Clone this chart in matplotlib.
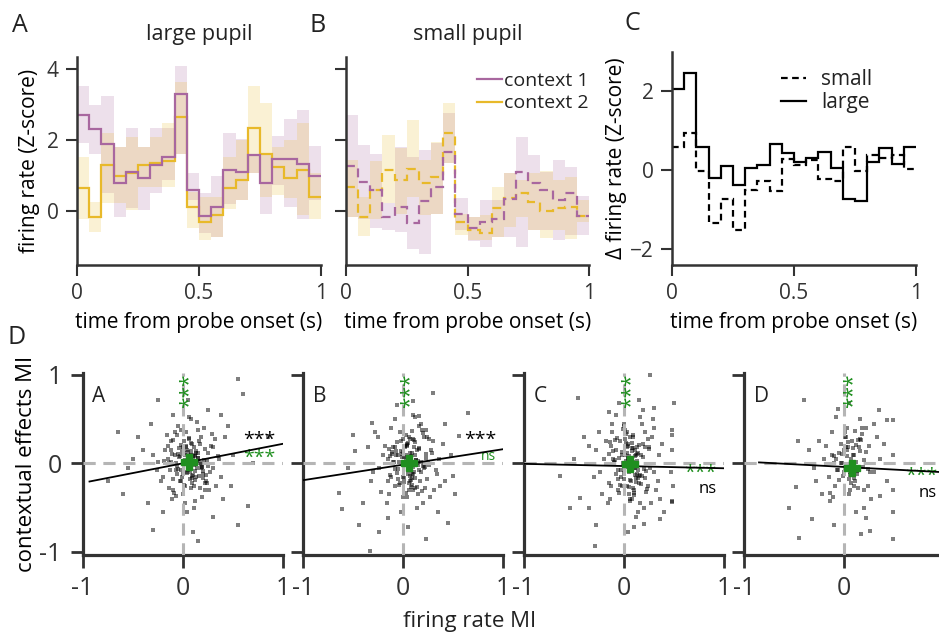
import numpy as np
import matplotlib
matplotlib.use("Agg")
import matplotlib.pyplot as plt

plt.rcParams["font.family"] = ["Open Sans", "DejaVu Sans"]
plt.rcParams["font.size"] = 15
plt.rcParams["axes.linewidth"] = 1.8
plt.rcParams["axes.edgecolor"] = "#333333"
plt.rcParams["xtick.color"] = "#333333"
plt.rcParams["ytick.color"] = "#333333"
plt.rcParams["text.color"] = "#222222"

# time bins (s)
edges = [0.0, 0.05, 0.1, 0.15, 0.2, 0.25, 0.3, 0.35, 0.4, 0.45, 0.5,
         0.55, 0.6, 0.65, 0.7, 0.75, 0.8, 0.85, 0.9, 0.95, 1.0]

# large pupil PSTHs
large_ctx1 = [2.72, 2.30, 1.88, 0.80, 1.11, 0.92, 1.31, 1.53, 3.29, 0.59,
              -0.14, 0.12, 1.15, 1.11, 1.58, 0.80, 1.46, 1.47, 1.32, 1.00]
large_ctx1_hi = [3.52, 2.98, 3.24, 1.81, 2.35, 1.81, 2.35, 2.33, 4.08, 1.06,
                 0.50, 0.99, 2.21, 2.02, 1.62, 1.64, 2.11, 2.58, 2.85, 1.83]
large_ctx1_lo = [1.91, 1.61, 0.50, -0.16, 0.08, 0.03, 0.50, 0.87, 1.62, 0.31,
                 -0.63, -0.72, 0.20, 0.31, 1.08, -0.07, 0.73, 0.12, -0.21, 0.31]
large_ctx2 = [0.64, -0.18, 1.30, 0.99, 1.08, 1.31, 1.36, 1.41, 2.64, 0.12,
              -0.31, -0.11, 0.66, 0.87, 2.33, 1.62, 1.25, 0.92, 1.15, 0.40]
large_ctx2_hi = [1.53, 0.26, 2.19, 1.80, 2.10, 1.81, 2.10, 2.47, 3.64, 0.54,
                 0.40, 0.40, 1.53, 2.00, 3.52, 3.05, 1.81, 2.00, 2.49, 1.06]
large_ctx2_lo = [-0.21, -0.58, 0.22, 0.22, 0.03, 0.69, 0.69, 0.69, 1.62, -0.49,
                 -0.82, -0.72, 0.05, 0.31, 1.06, 0.40, 0.45, 0.36, -0.11, -0.21]

# small pupil PSTHs
small_ctx1 = [1.28, 0.83, 0.59, -0.18, 0.12, -0.35, 0.28, 0.69, 1.67, -0.07,
              -0.49, -0.30, -0.23, 0.33, 1.11, 0.80, 0.59, 0.31, 0.50, -0.14]
small_ctx1_hi = [2.70, 1.86, 1.62, 0.23, 1.81, 1.53, 1.72, 1.91, 2.75, 0.38,
                 -0.16, 0.31, 0.31, 1.06, 2.08, 1.58, 1.11, 1.44, 1.25, 0.42]
small_ctx1_lo = [-0.16, -0.21, -0.49, -0.54, -0.58, -1.08, -1.21, -0.07, 1.34, -0.52,
                 -0.84, -1.00, -0.72, -0.72, -1.02, -0.54, -0.54, -0.82, -0.68, -0.68]
small_ctx2 = [0.69, -0.16, 0.59, 1.17, 0.87, 1.18, 0.80, 0.97, 2.21, -0.32,
              -0.54, -0.63, 0.08, 0.36, 0.52, 0.26, 0.01, 0.08, 0.10, -0.14]
small_ctx2_hi = [1.44, 0.40, 1.42, 2.14, 1.77, 2.56, 1.44, 1.95, 3.03, -0.07,
                 -0.16, -0.11, 0.69, 1.06, 0.87, 1.06, 1.14, 0.87, 0.97, 0.31]
small_ctx2_lo = [-0.16, -0.70, -0.21, 0.23, -0.07, 0.40, -0.11, -0.07, 1.34, -0.68,
                 -0.82, -0.82, -0.72, -0.44, -0.16, -0.54, -0.77, -0.54, -0.80, -0.30]

# context difference
delta_large = [2.04, 2.46, 0.59, -0.21, 0.11, -0.38, 0.04, 0.13, 0.65, 0.42,
               0.19, 0.29, 0.46, 0.04, -0.74, -0.80, 0.21, 0.55, 0.14, 0.59]
delta_small = [0.59, 0.94, -0.02, -1.35, -0.73, -1.52, -0.51, -0.29, -0.53, 0.27,
               0.13, 0.25, -0.24, -0.29, 0.59, -0.02, 0.38, 0.29, 0.38, 0.02]

# population scatter: firing rate MI (x) vs contextual effects MI (y)
fr_mi_A = [0.02, 0.05, 0.08, 0.11, -0.03, 0.0, 0.04, 0.07, 0.12, 0.15, -0.06, 0.03, 0.09, 0.06, 0.01,
           -0.02, 0.13, 0.10, 0.04, 0.08, -0.05, 0.02, 0.07, 0.11, 0.05, 0.0, 0.14, -0.01, 0.06, 0.09,
           0.03, 0.12, -0.04, 0.08, 0.05, 0.16, 0.01, 0.07, -0.07, 0.10,
           -0.15, 0.25, -0.2, 0.3, 0.22, -0.12, 0.28, -0.25, 0.18, 0.35, -0.1, 0.2, -0.18, 0.32, 0.26,
           -0.22, 0.15, -0.08, 0.24, 0.38, -0.3, 0.19, -0.14, 0.33, 0.21, -0.16, 0.27, 0.12, -0.05, 0.3,
           -0.26, 0.17, 0.23, -0.11, 0.36, 0.14, -0.19, 0.29, 0.02, 0.08, 0.0, 0.11, -0.02, 0.06, 0.04,
           -0.6, -0.3, 0.15, 0.5, 0.65, -0.25, 0.55, 0.6, -0.1, 0.42, -0.45, 0.48, -0.55, 0.7, -0.35,
           0.45, -0.4, 0.3, -0.75, 0.85, -0.5, 0.4, 0.05, -0.2, 0.25, 0.55, -0.65, 0.38, 0.1, -0.32]
ctx_mi_A = [0.04, -0.06, 0.1, -0.02, 0.08, -0.12, 0.15, 0.02, -0.09, 0.06, -0.03, 0.2, -0.17, -0.04, 0.12,
            -0.2, 0.14, -0.13, 0.0, 0.23, 0.11, -0.25, 0.07, 0.18, -0.08, 0.03, -0.05, -0.15, 0.27, -0.22,
            -0.1, 0.09, 0.17, -0.28, 0.13, -0.14, 0.25, -0.18, -0.07, 0.01,
            0.05, 0.12, -0.15, -0.05, -0.22, 0.25, 0.2, 0.02, 0.3, 0.08, -0.3, -0.12, 0.15, 0.28, -0.3,
            -0.2, 0.38, 0.35, 0.03, -0.15, 0.1, -0.38, -0.28, -0.25, 0.4, 0.32, -0.1, -0.42, 0.42, 0.18,
            -0.08, 0.22, -0.2, -0.4, 0.05, 0.47, 0.03, 0.33, -0.45, 0.5, -0.35, -0.5, 0.38, 0.52, -0.55,
            -0.35, -0.75, -0.88, 0.1, -0.48, 0.72, 0.95, 0.78, 0.55, 0.3, 0.3, -0.25, -0.05, 0.0, -0.45,
            0.42, 0.15, -0.6, -0.2, 0.3, 0.05, -0.4, 0.72, -0.55, 0.6, -0.7, 0.35, 0.55, -0.78, 0.45]
fr_core_A = [-0.12, 0.18, 0.02, -0.06, 0.22, 0.1, -0.1, 0.15, 0.05, -0.02, 0.2, -0.14, 0.08, 0.24, -0.04,
             0.13, 0.0, 0.19, -0.08, 0.11, 0.16, -0.11, 0.07, 0.21, -0.03, 0.12, -0.13, 0.03, 0.17, -0.07,
             0.09, 0.23, -0.01, 0.14, -0.09, 0.06, 0.2, -0.05, 0.1, 0.01, 0.18, -0.12, 0.04, 0.15, -0.06,
             0.22, 0.08, -0.1, 0.12, 0.0, 0.17, -0.02, 0.06, 0.25, -0.15, 0.09, 0.13, -0.07, 0.03, 0.19]
ctx_core_A = [0.02, -0.05, 0.09, -0.12, 0.16, 0.05, -0.18, 0.12, -0.02, 0.21, -0.09, 0.0, 0.14, -0.22, 0.07,
              -0.15, 0.19, -0.04, 0.1, -0.26, 0.25, 0.11, -0.1, 0.04, -0.2, 0.08, -0.07, 0.18, -0.28, 0.0,
              0.22, -0.13, 0.13, 0.03, -0.33, 0.29, -0.16, -0.06, 0.08, -0.24, -0.01, 0.15, -0.11, 0.06, 0.32,
              -0.3, 0.1, 0.26, -0.19, 0.17, 0.0, -0.08, 0.05, -0.03, 0.2, -0.14, 0.12, -0.37, 0.35, -0.04]

fr_mi_B = [0.03, 0.06, 0.09, 0.0, -0.04, 0.12, 0.07, 0.02, 0.1, -0.02, 0.05, 0.14, -0.07, 0.08, 0.04,
           0.11, 0.01, -0.05, 0.06, 0.13, 0.09, -0.01, 0.03, 0.16, 0.07, -0.08, 0.05, 0.1, 0.02, 0.12,
           -0.03, 0.08, 0.04, 0.15, 0.0, 0.06, -0.06, 0.11, 0.09, 0.03,
           -0.2, 0.28, -0.15, 0.33, 0.22, -0.25, 0.3, -0.1, 0.19, 0.36, -0.3, 0.24, -0.18, 0.4, 0.27,
           -0.22, 0.16, -0.12, 0.25, 0.42, -0.35, 0.2, -0.14, 0.31, 0.18, -0.28, 0.34, 0.14, -0.08, 0.26,
           -0.24, 0.21, 0.37, -0.16, 0.29, 0.12, -0.32, 0.23, -0.02, 0.1,
           -0.64, -0.61, -0.44, -0.24, -0.33, 0.23, 0.45, 0.65, 0.3, -0.06, -0.48, 0.5, 0.56, -0.31, 0.16,
           -0.55, 0.48, -0.4, 0.05, 0.35, -0.5, 0.1, -0.15, 0.42, 0.52]
ctx_mi_B = [0.05, -0.08, 0.12, -0.15, 0.02, 0.09, -0.2, 0.18, -0.04, 0.25, -0.12, 0.0, 0.14, -0.27, 0.22,
            -0.1, 0.07, -0.18, 0.3, 0.04, -0.24, 0.11, -0.33, 0.16, 0.28, -0.06, 0.01, -0.3, 0.2, -0.16,
            0.35, 0.08, -0.38, -0.02, 0.13, -0.22, 0.24, 0.19, -0.12, 0.32,
            0.1, 0.15, -0.2, -0.08, -0.28, 0.3, 0.25, 0.02, 0.38, 0.05, -0.1, -0.18, 0.2, 0.22, -0.38,
            -0.32, 0.42, 0.4, 0.0, -0.2, 0.18, -0.45, -0.35, -0.3, 0.45, 0.35, -0.12, -0.5, 0.5, 0.28,
            -0.05, 0.3, -0.25, -0.45, 0.12, 0.52, -0.2, 0.38, -0.55, 0.55,
            -0.33, -0.52, -0.7, -0.78, -0.99, -0.85, -0.67, 0.57, 0.79, 0.66, 0.14, -0.14, 0.31, 0.46, 0.53,
            -0.05, 0.1, -0.45, -0.72, -0.55, 0.32, 0.7, -0.62, 0.45, -0.35]
fr_core_B = [0.2, -0.13, 0.07, 0.16, -0.05, 0.23, 0.01, -0.09, 0.12, 0.18, -0.02, 0.09, -0.15, 0.14, 0.04,
             0.21, -0.07, 0.1, 0.0, 0.17, -0.11, 0.06, 0.24, -0.04, 0.13, -0.08, 0.19, 0.03, -0.12, 0.11,
             0.22, -0.01, 0.08, -0.14, 0.15, 0.05, -0.06, 0.2, 0.02, 0.12, -0.1, 0.16, 0.07, -0.03, 0.23,
             0.0, 0.1, -0.13, 0.18, 0.04, -0.08, 0.14, 0.26, -0.05, 0.09, 0.01, 0.21, -0.11, 0.06, 0.15]
ctx_core_B = [-0.03, 0.08, -0.14, 0.17, -0.06, 0.11, -0.21, 0.02, 0.24, -0.1, 0.14, -0.17, 0.05, -0.27, 0.2,
              -0.01, 0.09, -0.12, 0.27, -0.2, 0.13, -0.08, 0.3, -0.24, 0.04, 0.19, -0.31, 0.1, -0.15, 0.26,
              -0.04, 0.07, -0.19, 0.16, -0.34, 0.23, -0.11, 0.34, 0.0, -0.28, 0.18, -0.07, 0.12, -0.22, 0.06,
              -0.38, 0.28, -0.13, 0.01, 0.21, -0.25, 0.15, -0.02, 0.09, 0.36, -0.16, -0.05, 0.11, -0.3, 0.03]

fr_mi_C = [0.02, 0.05, 0.08, 0.11, -0.02, 0.0, 0.04, 0.07, 0.13, -0.05, 0.03, 0.09, 0.06, 0.01, -0.03,
           0.12, 0.1, 0.04, 0.08, -0.06, 0.02, 0.07, 0.14, 0.05, -0.01, 0.06, 0.09, 0.03, 0.11, -0.04,
           0.08, 0.05, 0.15, 0.01, 0.07, -0.08, 0.1, 0.04, 0.12, 0.0, 0.06, 0.09, -0.02, 0.03, 0.13,
           -0.2, 0.25, -0.15, 0.3, 0.22, -0.25, 0.28, -0.1, 0.18, 0.35, -0.3, 0.24, -0.18, 0.38, 0.27,
           -0.22, 0.16, -0.12, 0.26, 0.32, -0.35, 0.2, -0.14, 0.3, 0.48, 0.48, 0.47, 0.49, 0.48, -0.28,
           0.34, 0.14, -0.08, 0.21, -0.24, 0.19, 0.36, -0.16, 0.29, 0.12,
           -0.46, 0.26, 0.5, -0.64, -0.54, -0.44, -0.28, -0.29, 0.04, 0.36, 0.48, 0.48, -0.4, 0.15, -0.05,
           0.4, -0.5, 0.3, 0.1, -0.35, 0.2, -0.15]
ctx_mi_C = [0.03, -0.1, 0.14, -0.05, 0.09, -0.18, 0.2, 0.01, -0.12, 0.06, -0.25, 0.17, -0.02, 0.28, -0.15,
            0.1, -0.3, 0.05, 0.23, -0.08, 0.33, -0.2, 0.12, -0.35, 0.0, 0.3, -0.28, 0.18, -0.13, 0.25,
            -0.4, 0.08, -0.22, 0.38, -0.06, 0.15, -0.33, 0.22, -0.17, 0.42, -0.42, 0.02, -0.26, 0.35, 0.11,
            0.05, 0.18, -0.22, -0.1, -0.32, 0.35, 0.3, 0.0, 0.45, 0.1, -0.15, -0.25, 0.25, 0.22, -0.45,
            -0.35, 0.52, 0.45, -0.05, -0.3, 0.2, -0.5, -0.4, 0.4, 0.32, 0.15, -0.1, -0.25, -0.42, 0.15,
            -0.2, -0.55, 0.55, 0.35, -0.1, 0.6, -0.4, -0.45, 0.5, -0.6,
            0.74, 1.0, 0.68, -0.14, -0.5, -0.39, -0.7, -0.93, -0.78, -0.63, -0.44, 0.38, 0.3, 0.72, 0.68,
            -0.55, 0.05, 0.62, -0.72, -0.5, -0.68, 0.58]
fr_core_C = [-0.09, 0.14, 0.03, 0.21, -0.13, 0.08, 0.17, -0.04, 0.11, 0.0, 0.24, -0.1, 0.06, 0.19, -0.06,
             0.13, 0.02, -0.14, 0.16, 0.09, 0.22, -0.02, 0.05, -0.11, 0.15, 0.1, -0.07, 0.2, 0.01, 0.12,
             -0.12, 0.18, 0.04, -0.05, 0.25, 0.07, -0.09, 0.14, -0.01, 0.11, 0.17, -0.15, 0.06, 0.21, -0.03,
             0.09, 0.13, -0.08, 0.02, 0.23, -0.11, 0.16, 0.04, -0.06, 0.19, 0.0, 0.1, -0.13, 0.08, 0.15]
ctx_core_C = [0.04, -0.07, 0.12, -0.16, 0.2, -0.02, 0.09, -0.24, 0.15, -0.11, 0.27, 0.01, -0.19, 0.07, -0.3,
              0.18, -0.04, 0.24, -0.13, 0.32, -0.09, 0.13, -0.27, 0.05, 0.21, -0.36, 0.29, -0.06, 0.1, -0.21,
              0.35, -0.14, 0.0, -0.33, 0.16, -0.01, 0.26, -0.17, 0.39, 0.08, -0.23, 0.11, -0.4, 0.19, -0.08,
              0.3, 0.03, -0.12, 0.23, -0.29, 0.14, -0.45, 0.06, -0.18, 0.22, 0.44, -0.05, -0.26, 0.17, -0.14]

fr_mi_D = [0.03, 0.06, 0.0, 0.09, -0.03, 0.12, 0.05, 0.02, 0.08, -0.05, 0.1, 0.04, 0.07, -0.01, 0.14,
           0.06, 0.01, 0.09, -0.07, 0.11, 0.03, 0.05, 0.16, -0.02, 0.08,
           -0.2, 0.25, -0.15, 0.3, 0.2, -0.25, 0.33, -0.1, 0.18, 0.36, -0.3, 0.24, -0.18, 0.4, 0.27,
           -0.22, 0.16, -0.12, 0.26, 0.43, -0.35, 0.2, 0.49, 0.49, -0.14, 0.3, 0.12, -0.08, 0.22, -0.28,
           -0.4, -0.06, -0.55, -0.45, -0.32, 0.17, 0.26, 0.49, 0.49, 0.43, 0.49, 0.36, -0.48, -0.46, 0.35,
           -0.1, 0.05, 0.22]
ctx_mi_D = [0.08, -0.1, 0.15, -0.03, 0.22, 0.02, -0.18, 0.3, -0.06, 0.12, -0.25, 0.18, 0.05, -0.14, 0.26,
            -0.3, 0.35, 0.1, -0.08, -0.2, 0.4, -0.35, 0.14, 0.0, 0.25,
            0.05, 0.2, -0.15, -0.1, -0.3, 0.25, 0.3, 0.0, 0.4, 0.05, -0.05, -0.25, 0.2, 0.22, -0.4,
            -0.35, 0.5, 0.35, -0.1, -0.2, 0.15, -0.5, 0.1, -0.3, -0.42, 0.45, -0.55, 0.52, 0.4, -0.2,
            0.72, 0.61, -0.5, -0.84, -0.63, -0.8, -0.76, -0.85, 0.49, 0.49, -0.55, -0.37, -0.27, 0.25, 0.6,
            -0.7, 0.68, -0.62]
fr_core_D = [-0.08, 0.13, 0.02, 0.19, -0.12, 0.07, 0.16, -0.03, 0.1, 0.22, -0.06, 0.04, 0.14, -0.1, 0.18,
             0.0, 0.09, -0.14, 0.12, 0.05, 0.2, -0.05, 0.11, 0.03, -0.09, 0.17, 0.06, 0.24, -0.02, 0.08,
             -0.11, 0.15, 0.01, 0.13, 0.1]
ctx_core_D = [0.05, -0.12, 0.19, -0.04, 0.1, -0.22, 0.28, 0.0, -0.16, 0.13, -0.07, 0.24, -0.28, 0.08, 0.33,
              -0.1, 0.17, -0.33, 0.21, -0.02, 0.04, -0.19, 0.37, 0.15, -0.25, 0.26, -0.13, -0.06, 0.11, 0.02,
              -0.38, 0.18, 0.3, -0.09, 0.09]

scatter_names = ["A", "B", "C", "D"]
fit_slope = [0.22, 0.175, -0.025, -0.06]
fit_intercept = [0.0, -0.015, -0.03, -0.04]
fit_xmin = [-0.93, -1.0, -1.0, -0.85]
mean_fr = [0.06, 0.06, 0.065, 0.08]
mean_ctx = [0.01, 0.0, -0.01, -0.05]
fit_sig = ["***", "***", "ns", "ns"]
mean_sig = ["***", "ns", "***", "***"]

purple = "#a8679f"
yellow = "#e8b92a"
green = "#1f8f1f"

fig = plt.figure(figsize=(9.39, 6.37), dpi=100)
W, H = 939, 637


def px_axes(left, top, right, bottom):
    return fig.add_axes([left / W, 1 - bottom / H, (right - left) / W, (bottom - top) / H])


def style_top(ax):
    for s in ["top", "right"]:
        ax.spines[s].set_visible(False)
    ax.tick_params(direction="out", length=8, width=1.5, labelsize=15, pad=5)
    ax.set_xlim(0, 1)
    ax.set_xticks([0, 0.5, 1])
    ax.set_xticklabels(["0", "0.5", "1"])
    ax.set_xlabel("time from probe onset (s)", fontsize=15, labelpad=6)


# ---- A: large pupil ----
axA = px_axes(77, 57, 321, 265)
axA.stairs(large_ctx1_hi, edges, baseline=large_ctx1_lo, fill=True, color=purple, alpha=0.2, lw=0)
axA.stairs(large_ctx2_hi, edges, baseline=large_ctx2_lo, fill=True, color=yellow, alpha=0.2, lw=0)
axA.stairs(large_ctx2, edges, baseline=None, color=yellow, lw=1.6)
axA.stairs(large_ctx1, edges, baseline=None, color=purple, lw=1.6)
axA.set_ylim(-1.52, 4.34)
axA.set_yticks([0, 2, 4])
axA.set_ylabel("firing rate (Z-score)", fontsize=15, labelpad=5)
axA.set_title("large pupil", fontsize=15.5, pad=12)
style_top(axA)

# ---- B: small pupil ----
axB = px_axes(346, 57, 589, 265)
axB.stairs(small_ctx1_hi, edges, baseline=small_ctx1_lo, fill=True, color=purple, alpha=0.2, lw=0)
axB.stairs(small_ctx2_hi, edges, baseline=small_ctx2_lo, fill=True, color=yellow, alpha=0.2, lw=0)
axB.stairs(small_ctx2, edges, baseline=None, color=yellow, lw=1.6, ls=(0, (4, 2.5)))
axB.stairs(small_ctx1, edges, baseline=None, color=purple, lw=1.6, ls=(0, (4, 2.5)))
axB.plot([], [], color=purple, lw=1.6, label="context 1")
axB.plot([], [], color=yellow, lw=1.6, label="context 2")
axB.set_ylim(-1.52, 4.34)
axB.set_yticks([0, 2, 4])
axB.set_yticklabels([])
axB.set_title("small pupil", fontsize=15.5, pad=12)
style_top(axB)
axB.legend(loc="upper right", bbox_to_anchor=(1.0, 0.93), frameon=False, fontsize=14,
           handlelength=1.3, handletextpad=0.1, labelspacing=0.25, borderpad=0, borderaxespad=0)

# ---- C: difference ----
axC = px_axes(672, 52, 916, 265)
axC.stairs(delta_small, edges, baseline=None, color="black", lw=1.6, ls=(0, (3, 2)), label="small")
axC.stairs(delta_large, edges, baseline=None, color="black", lw=1.6, label="large")
axC.set_ylim(-2.41, 2.99)
axC.set_yticks([-2, 0, 2])
axC.set_ylabel("Δ firing rate (Z-score)", fontsize=15, labelpad=2)
style_top(axC)
axC.legend(loc="upper right", bbox_to_anchor=(0.82, 0.92), frameon=False, fontsize=15,
           handlelength=1.2, handletextpad=0.7, labelspacing=0.1, borderpad=0, borderaxespad=0)

# ---- panel letters ----
fig.text(20 / W, 1 - 25 / H, "A", fontsize=18, ha="center", va="center")
fig.text(318 / W, 1 - 25 / H, "B", fontsize=18, ha="center", va="center")
fig.text(632 / W, 1 - 23 / H, "C", fontsize=18, ha="center", va="center")
fig.text(17 / W, 1 - 338 / H, "D", fontsize=18, ha="center", va="center")

# ---- D: population scatters ----
fr_sets = [fr_mi_A + fr_core_A, fr_mi_B + fr_core_B, fr_mi_C + fr_core_C, fr_mi_D + fr_core_D]
ctx_sets = [ctx_mi_A + ctx_core_A, ctx_mi_B + ctx_core_B, ctx_mi_C + ctx_core_C, ctx_mi_D + ctx_core_D]
lefts = [82.5, 303, 523.5, 744]
fit_txt_y = [0.26, 0.26, -0.29, -0.33]
mean_txt_y = [0.06, 0.08, -0.11, -0.14]
for i, name in enumerate(scatter_names):
    ax = px_axes(lefts[i], 373, lefts[i] + 200, 555)
    ax.scatter(fr_sets[i], ctx_sets[i], s=7, marker="s", color="black", alpha=0.5, lw=0, zorder=2)
    ax.axhline(0, color="#b5b5b5", lw=2.2, ls=(0, (4, 2.5)), zorder=3)
    ax.axvline(0, color="#b5b5b5", lw=2.2, ls=(0, (4, 2.5)), zorder=3)
    xs = np.array([fit_xmin[i], 1.0])
    ax.plot(xs, fit_slope[i] * xs + fit_intercept[i], color="black", lw=1.3, zorder=4)
    ax.plot(mean_fr[i], mean_ctx[i], marker="P", ms=11, color=green, mec=green, zorder=5)
    ax.text(mean_fr[i] + 0.005, 0.82, "***", rotation=90, color=green, fontsize=15,
            ha="center", va="center", zorder=5)
    ax.text(0.05, 0.93, name, transform=ax.transAxes, fontsize=15, ha="left", va="top")
    ax.text(0.93, fit_txt_y[i], fit_sig[i], color="black",
            fontsize=14 if fit_sig[i] == "***" else 12, ha="right", va="center")
    ax.text(0.93, mean_txt_y[i], mean_sig[i], color=green,
            fontsize=14 if mean_sig[i] == "***" else 10, ha="right", va="center")
    ax.set_xlim(-1.0, 1.0)
    ax.set_ylim(-1.034, 1.02)
    for s in ["top", "right"]:
        ax.spines[s].set_visible(False)
    ax.spines["left"].set_linewidth(2.3)
    ax.spines["bottom"].set_linewidth(2.3)
    ax.tick_params(direction="out", length=9, width=2, labelsize=18, pad=6)
    ax.set_xticks([-1, 0, 1])
    ax.set_xticklabels(["-1", "0", "1"] if i < 3 else ["-1", "0", ""])
    ax.set_yticks([-1, 0, 1])
    if i == 0:
        ax.set_yticklabels(["-1", "0", "1"])
        ax.set_ylabel("contextual effects MI", fontsize=16, labelpad=2)
    else:
        ax.set_yticklabels([])

fig.text(470 / W, 1 - 622 / H, "firing rate MI", fontsize=16, ha="center", va="center")

fig.savefig("out.png", dpi=100)
